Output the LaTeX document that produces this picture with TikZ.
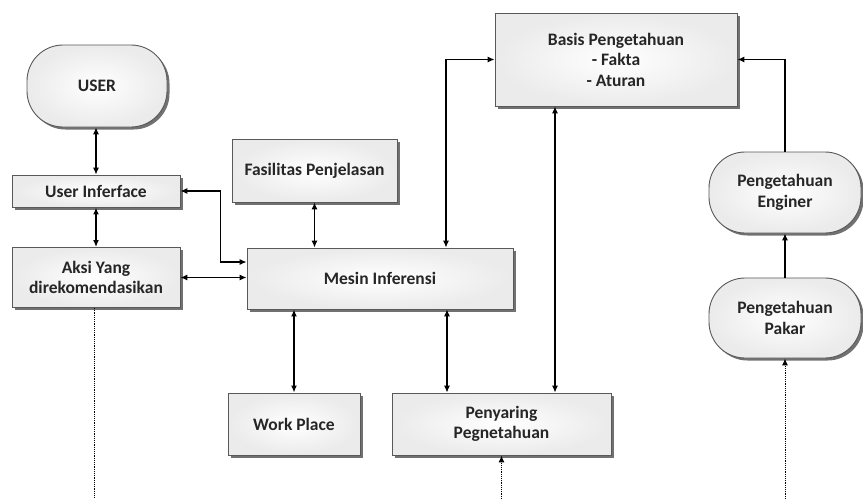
\documentclass[tikz,border=0pt]{standalone}
\usepackage{fontspec}
\setmainfont{Carlito}
\usetikzlibrary{arrows.meta,shadows}
\begin{document}
\begin{tikzpicture}[x=1pt,y=-1pt,
  every node/.style={font=\bfseries\fontsize{17.5}{20.5}\selectfont, text=black!85, align=center, inner sep=0pt},
  box/.style={draw=black!65, line width=0.9pt, rectangle, shading=radial, inner color=white, outer color=gray!16,
    drop shadow={shadow xshift=2.5pt, shadow yshift=-2.5pt, fill=black!65, opacity=0.85}},
  pill/.style={box, rounded corners=36pt},
  link/.style={line width=1.1pt, {Latex[length=7pt,width=6pt]}-{Latex[length=7pt,width=6pt]}},
  thicklink/.style={link, line width=2.2pt},
  oneway/.style={line width=1.1pt, -{Latex[length=7pt,width=6pt]}},
  dotline/.style={line width=1pt, dash pattern=on 1.2pt off 1pt},
  dotarrow/.style={dotline, -{Latex[length=7pt,width=6pt]}}
]
\useasboundingbox[fill=white] (0,0) rectangle (863,499);

\node[pill, minimum width=140pt, minimum height=82pt] (user) at (97,86) {USER};
\node[box, minimum width=168pt, minimum height=32pt] (ui) at (96,191) {User Inferface};
\node[box, minimum width=168pt, minimum height=60pt] (aksi) at (96,277.5) {Aksi Yang\\direkomendasikan};
\node[box, minimum width=165pt, minimum height=63pt] (fas) at (314.5,170.5) {Fasilitas Penjelasan};
\node[box, minimum width=266pt, minimum height=61pt] (mesin) at (380,278.5) {Mesin Inferensi};
\node[box, minimum width=242pt, minimum height=93pt] (basis) at (616,59.5) {Basis Pengetahuan\\- Fakta\\- Aturan};
\node[box, minimum width=132pt, minimum height=62pt] (wp) at (294,424) {Work Place};
\node[box, minimum width=219pt, minimum height=62pt] (peny) at (501.5,424) {Penyaring\\Pegnetahuan};
\node[pill, minimum width=152pt, minimum height=81pt] (eng) at (785,192.5) {Pengetahuan\\Enginer};
\node[pill, minimum width=152pt, minimum height=80pt] (pakar) at (785,318) {Pengetahuan\\Pakar};

\coordinate (base) at (0,499);

\draw[link] (ui.north) -- (ui.north |- user.south);
\draw[thicklink] (ui.south) -- (aksi.north);
\draw[link] (ui.east) -- ++(40,0) |- ([yshift=16.5pt]mesin.west);
\draw[link] (aksi.east) -- (aksi.east -| mesin.west);
\draw[link] (fas.south) -- (fas.south |- mesin.north);
\draw[link] ([xshift=66pt]mesin.north) |- (basis.west);
\draw[link] ([xshift=-61pt]basis.south) -- ([xshift=-61pt]basis.south |- peny.north);
\draw[thicklink] (wp.north) -- (wp.north |- mesin.south);
\draw[link] ([xshift=-54.5pt]peny.north) -- ([xshift=-54.5pt]peny.north |- mesin.south);
\draw[oneway] (eng.north) |- (basis.east);
\draw[oneway] (pakar.north) -- (eng.south);
\draw[dotline] ([xshift=-2pt]aksi.south) -- ([xshift=-2pt]aksi.south |- base);
\draw[dotarrow] (peny.south |- base) -- (peny.south);
\draw[dotarrow] (pakar.south |- base) -- (pakar.south);
\end{tikzpicture}
\end{document}
